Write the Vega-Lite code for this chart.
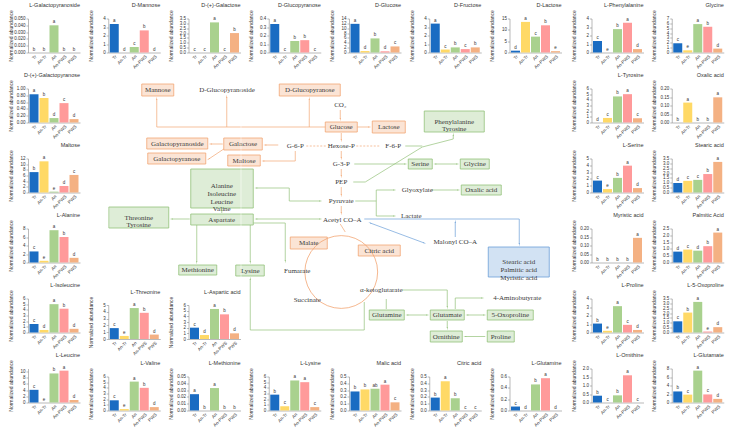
{
"$schema":"https://vega.github.io/schema/vega-lite/v6.json",
"padding":{"left":8,"top":2.5,"right":2,"bottom":1},
"background":"white",
"spacing":8.25,
"data":{"name":"b"},
"datasets":{
"b":[
{"c":"L-Galactopyranoside","t":"Tr","v":0,"s":"b"},{"c":"L-Galactopyranoside","t":"An-Tr","v":0,"s":"b"},{"c":"L-Galactopyranoside","t":"An","v":0.04,"s":"a"},{"c":"L-Galactopyranoside","t":"An-PWS","v":0,"s":"b"},{"c":"L-Galactopyranoside","t":"PWS","v":0,"s":"b"},
{"c":"D-Mannose","t":"Tr","v":3.35,"s":"a"},{"c":"D-Mannose","t":"An-Tr","v":0,"s":"d"},{"c":"D-Mannose","t":"An","v":0.65,"s":"c"},{"c":"D-Mannose","t":"An-PWS","v":2.6,"s":"b"},{"c":"D-Mannose","t":"PWS","v":0,"s":"d"},
{"c":"D-(+)-Galactose","t":"Tr","v":0,"s":"c"},{"c":"D-(+)-Galactose","t":"An-Tr","v":0,"s":"c"},{"c":"D-(+)-Galactose","t":"An","v":3.1,"s":"a"},{"c":"D-(+)-Galactose","t":"An-PWS","v":0,"s":"c"},{"c":"D-(+)-Galactose","t":"PWS","v":2.0,"s":"b"},
{"c":"D-Glucopyranose","t":"Tr","v":0.335,"s":"a"},{"c":"D-Glucopyranose","t":"An-Tr","v":0,"s":"c"},{"c":"D-Glucopyranose","t":"An","v":0.135,"s":"b"},{"c":"D-Glucopyranose","t":"An-PWS","v":0.145,"s":"b"},{"c":"D-Glucopyranose","t":"PWS","v":0,"s":"c"},
{"c":"D-Glucose","t":"Tr","v":11.8,"s":"a"},{"c":"D-Glucose","t":"An-Tr","v":0.6,"s":"d"},{"c":"D-Glucose","t":"An","v":5.8,"s":"b"},{"c":"D-Glucose","t":"An-PWS","v":0.5,"s":"d"},{"c":"D-Glucose","t":"PWS","v":2.5,"s":"c"},
{"c":"D-Fructose","t":"Tr","v":3.4,"s":"a"},{"c":"D-Fructose","t":"An-Tr","v":0.35,"s":"c"},{"c":"D-Fructose","t":"An","v":0.6,"s":"b"},{"c":"D-Fructose","t":"An-PWS","v":0.4,"s":"c"},{"c":"D-Fructose","t":"PWS","v":0.6,"s":"b"},
{"c":"D-Lactose","t":"Tr","v":0.8,"s":"d"},{"c":"D-Lactose","t":"An-Tr","v":13.5,"s":"a"},{"c":"D-Lactose","t":"An","v":7.0,"s":"c"},{"c":"D-Lactose","t":"An-PWS","v":12.0,"s":"b"},{"c":"D-Lactose","t":"PWS","v":0.6,"s":"e"},
{"c":"L-Phenylalanine","t":"Tr","v":1.35,"s":"c"},{"c":"L-Phenylalanine","t":"An-Tr","v":0,"s":"e"},{"c":"L-Phenylalanine","t":"An","v":2.75,"s":"b"},{"c":"L-Phenylalanine","t":"An-PWS","v":3.5,"s":"a"},{"c":"L-Phenylalanine","t":"PWS","v":0.4,"s":"d"},
{"c":"Glycine","t":"Tr","v":1.9,"s":"c"},{"c":"Glycine","t":"An-Tr","v":0.45,"s":"e"},{"c":"Glycine","t":"An","v":5.85,"s":"a"},{"c":"Glycine","t":"An-PWS","v":5.3,"s":"b"},{"c":"Glycine","t":"PWS","v":0.8,"s":"d"},
{"c":"D-(+)-Galactopyranose","t":"Tr","v":0.83,"s":"a"},{"c":"D-(+)-Galactopyranose","t":"An-Tr","v":0.72,"s":"b"},{"c":"D-(+)-Galactopyranose","t":"An","v":0.13,"s":"d"},{"c":"D-(+)-Galactopyranose","t":"An-PWS","v":0.57,"s":"c"},{"c":"D-(+)-Galactopyranose","t":"PWS","v":0.1,"s":"d"},
{"c":"Maltose","t":"Tr","v":7.2,"s":"b"},{"c":"Maltose","t":"An-Tr","v":11.0,"s":"a"},{"c":"Maltose","t":"An","v":0.3,"s":"e"},{"c":"Maltose","t":"An-PWS","v":2.3,"s":"d"},{"c":"Maltose","t":"PWS","v":6.2,"s":"c"},
{"c":"L-Alanine","t":"Tr","v":2.6,"s":"c"},{"c":"L-Alanine","t":"An-Tr","v":0.4,"s":"e"},{"c":"L-Alanine","t":"An","v":7.6,"s":"a"},{"c":"L-Alanine","t":"An-PWS","v":6.0,"s":"b"},{"c":"L-Alanine","t":"PWS","v":1.1,"s":"d"},
{"c":"L-Isoleucine","t":"Tr","v":1.5,"s":"c"},{"c":"L-Isoleucine","t":"An-Tr","v":0.45,"s":"d"},{"c":"L-Isoleucine","t":"An","v":5.0,"s":"a"},{"c":"L-Isoleucine","t":"An-PWS","v":4.2,"s":"b"},{"c":"L-Isoleucine","t":"PWS","v":0.65,"s":"d"},
{"c":"L-Threonine","t":"Tr","v":1.6,"s":"c"},{"c":"L-Threonine","t":"An-Tr","v":0.45,"s":"e"},{"c":"L-Threonine","t":"An","v":4.55,"s":"a"},{"c":"L-Threonine","t":"An-PWS","v":3.85,"s":"b"},{"c":"L-Threonine","t":"PWS","v":0.65,"s":"d"},
{"c":"L-Aspartic acid","t":"Tr","v":2.0,"s":"c"},{"c":"L-Aspartic acid","t":"An-Tr","v":0.7,"s":"d"},{"c":"L-Aspartic acid","t":"An","v":5.3,"s":"a"},{"c":"L-Aspartic acid","t":"An-PWS","v":4.35,"s":"b"},{"c":"L-Aspartic acid","t":"PWS","v":1.0,"s":"d"},
{"c":"L-Tyrosine","t":"Tr","v":0,"s":"d"},{"c":"L-Tyrosine","t":"An-Tr","v":0.8,"s":"c"},{"c":"L-Tyrosine","t":"An","v":4.6,"s":"b"},{"c":"L-Tyrosine","t":"An-PWS","v":5.0,"s":"a"},{"c":"L-Tyrosine","t":"PWS","v":0.75,"s":"c"},
{"c":"Oxalic acid","t":"Tr","v":0,"s":"b"},{"c":"Oxalic acid","t":"An-Tr","v":0.117,"s":"a"},{"c":"Oxalic acid","t":"An","v":0,"s":"b"},{"c":"Oxalic acid","t":"An-PWS","v":0,"s":"b"},{"c":"Oxalic acid","t":"PWS","v":0.148,"s":"a"},
{"c":"L-Serine","t":"Tr","v":1.75,"s":"c"},{"c":"L-Serine","t":"An-Tr","v":0.5,"s":"e"},{"c":"L-Serine","t":"An","v":2.15,"s":"b"},{"c":"L-Serine","t":"An-PWS","v":3.95,"s":"a"},{"c":"L-Serine","t":"PWS","v":0.65,"s":"d"},
{"c":"Stearic acid","t":"Tr","v":0.98,"s":"d"},{"c":"Stearic acid","t":"An-Tr","v":1.2,"s":"c"},{"c":"Stearic acid","t":"An","v":1.3,"s":"c"},{"c":"Stearic acid","t":"An-PWS","v":1.9,"s":"b"},{"c":"Stearic acid","t":"PWS","v":3.15,"s":"a"},
{"c":"Myristic acid","t":"Tr","v":0,"s":"b"},{"c":"Myristic acid","t":"An-Tr","v":0,"s":"b"},{"c":"Myristic acid","t":"An","v":0,"s":"b"},{"c":"Myristic acid","t":"An-PWS","v":0,"s":"b"},{"c":"Myristic acid","t":"PWS","v":0.145,"s":"a"},
{"c":"Palmitic Acid","t":"Tr","v":0.8,"s":"d"},{"c":"Palmitic Acid","t":"An-Tr","v":0.95,"s":"c"},{"c":"Palmitic Acid","t":"An","v":0.87,"s":"d"},{"c":"Palmitic Acid","t":"An-PWS","v":1.2,"s":"b"},{"c":"Palmitic Acid","t":"PWS","v":2.2,"s":"a"},
{"c":"L-Proline","t":"Tr","v":1.05,"s":"b"},{"c":"L-Proline","t":"An-Tr","v":0.2,"s":"e"},{"c":"L-Proline","t":"An","v":3.1,"s":"a"},{"c":"L-Proline","t":"An-PWS","v":0.9,"s":"c"},{"c":"L-Proline","t":"PWS","v":0.3,"s":"d"},
{"c":"L-5-Oxoproline","t":"Tr","v":1.15,"s":"c"},{"c":"L-5-Oxoproline","t":"An-Tr","v":2.05,"s":"b"},{"c":"L-5-Oxoproline","t":"An","v":3.15,"s":"a"},{"c":"L-5-Oxoproline","t":"An-PWS","v":0.1,"s":"e"},{"c":"L-5-Oxoproline","t":"PWS","v":0.55,"s":"d"},
{"c":"L-Leucine","t":"Tr","v":4.1,"s":"c"},{"c":"L-Leucine","t":"An-Tr","v":0,"s":"e"},{"c":"L-Leucine","t":"An","v":9.4,"s":"b"},{"c":"L-Leucine","t":"An-PWS","v":10.3,"s":"a"},{"c":"L-Leucine","t":"PWS","v":0.8,"s":"d"},
{"c":"L-Valine","t":"Tr","v":1.8,"s":"c"},{"c":"L-Valine","t":"An-Tr","v":0.25,"s":"e"},{"c":"L-Valine","t":"An","v":5.1,"s":"a"},{"c":"L-Valine","t":"An-PWS","v":4.0,"s":"b"},{"c":"L-Valine","t":"PWS","v":0.6,"s":"d"},
{"c":"L-Methionine","t":"Tr","v":0.024,"s":"a"},{"c":"L-Methionine","t":"An-Tr","v":0,"s":"b"},{"c":"L-Methionine","t":"An","v":0.033,"s":"a"},{"c":"L-Methionine","t":"An-PWS","v":0,"s":"b"},{"c":"L-Methionine","t":"PWS","v":0,"s":"b"},
{"c":"L-Lysine","t":"Tr","v":2.8,"s":"b"},{"c":"L-Lysine","t":"An-Tr","v":0.75,"s":"c"},{"c":"L-Lysine","t":"An","v":5.3,"s":"a"},{"c":"L-Lysine","t":"An-PWS","v":5.0,"s":"a"},{"c":"L-Lysine","t":"PWS","v":0.6,"s":"c"},
{"c":"Malic acid","t":"Tr","v":0.28,"s":"b"},{"c":"Malic acid","t":"An-Tr","v":0.31,"s":"b"},{"c":"Malic acid","t":"An","v":0.32,"s":"ab"},{"c":"Malic acid","t":"An-PWS","v":0.38,"s":"a"},{"c":"Malic acid","t":"PWS","v":0.12,"s":"c"},
{"c":"Citric acid","t":"Tr","v":0.19,"s":"b"},{"c":"Citric acid","t":"An-Tr","v":0.43,"s":"a"},{"c":"Citric acid","t":"An","v":0.18,"s":"b"},{"c":"Citric acid","t":"An-PWS","v":0,"s":"c"},{"c":"Citric acid","t":"PWS","v":0,"s":"c"},
{"c":"L-Glutamine","t":"Tr","v":0.07,"s":"c"},{"c":"L-Glutamine","t":"An-Tr","v":0,"s":"d"},{"c":"L-Glutamine","t":"An","v":0.46,"s":"b"},{"c":"L-Glutamine","t":"An-PWS","v":0.57,"s":"a"},{"c":"L-Glutamine","t":"PWS","v":0,"s":"d"},
{"c":"L-Ornithine","t":"Tr","v":0.4,"s":"b"},{"c":"L-Ornithine","t":"An-Tr","v":0,"s":"c"},{"c":"L-Ornithine","t":"An","v":0.42,"s":"b"},{"c":"L-Ornithine","t":"An-PWS","v":1.6,"s":"a"},{"c":"L-Ornithine","t":"PWS","v":0,"s":"c"},
{"c":"L-Glutamate","t":"Tr","v":2.6,"s":"b"},{"c":"L-Glutamate","t":"An-Tr","v":1.85,"s":"c"},{"c":"L-Glutamate","t":"An","v":7.5,"s":"a"},{"c":"L-Glutamate","t":"An-PWS","v":1.9,"s":"c"},{"c":"L-Glutamate","t":"PWS","v":0.85,"s":"d"}
],
"boxes":[
{"x":140,"x2":172,"y":86,"y2":98,"k":"o"},{"x":277,"x2":338,"y":86,"y2":98,"k":"o"},{"x":323,"x2":355,"y":124,"y2":134,"k":"o"},{"x":370,"x2":403,"y":123,"y2":135,"k":"o"},
{"x":222,"x2":260,"y":140,"y2":152,"k":"o"},{"x":145,"x2":206,"y":140,"y2":151,"k":"o"},{"x":146,"x2":204,"y":155,"y2":166,"k":"o"},{"x":226,"x2":258,"y":157,"y2":168,"k":"o"},
{"x":288,"x2":325,"y":239,"y2":251,"k":"o"},{"x":356,"x2":398,"y":247,"y2":258,"k":"o"},
{"x":422,"x2":482,"y":113,"y2":134,"k":"g"},{"x":406,"x2":430,"y":161,"y2":171,"k":"g"},{"x":458,"x2":487,"y":161,"y2":171,"k":"g"},{"x":459,"x2":499,"y":187,"y2":197,"k":"g"},
{"x":189,"x2":251,"y":171,"y2":210,"k":"g"},{"x":107,"x2":167,"y":209,"y2":230,"k":"g"},{"x":189,"x2":251,"y":216,"y2":227,"k":"g"},{"x":177,"x2":215,"y":267,"y2":277,"k":"g"},
{"x":234,"x2":262,"y":267,"y2":278,"k":"g"},{"x":367,"x2":402,"y":312,"y2":322,"k":"g"},{"x":428,"x2":462,"y":312,"y2":322,"k":"g"},{"x":485,"x2":531,"y":312,"y2":322,"k":"g"},
{"x":428,"x2":460,"y":333,"y2":344,"k":"g"},{"x":485,"x2":512,"y":333,"y2":344,"k":"g"},
{"x":486,"x2":547,"y":249,"y2":279,"k":"b"}
],
"labels":[
{"x":156,"y":92,"t":"Mannose"},{"x":307.5,"y":92,"t":"D-Glucopyranose"},{"x":339,"y":129,"t":"Glucose"},{"x":386.5,"y":129,"t":"Lactose"},
{"x":241,"y":146,"t":"Galactose"},{"x":175.5,"y":145.5,"t":"Galactopyranoside"},{"x":175,"y":160.5,"t":"Galactopyranose"},{"x":242,"y":162.5,"t":"Maltose"},
{"x":306.5,"y":245,"t":"Malate"},{"x":377,"y":252.5,"t":"Citric acid"},
{"x":452,"y":123.5,"t":"Phenylalanine\nTyrosine"},{"x":418,"y":166,"t":"Serine"},{"x":472.5,"y":166,"t":"Glycine"},{"x":479,"y":192,"t":"Oxalic acid"},
{"x":220,"y":188,"t":"Alanine\nIsoleucine\nLeucine\nValine"},{"x":137,"y":219.5,"t":"Threonine\nTyrosine"},{"x":220,"y":221.5,"t":"Aspartate"},{"x":196,"y":272,"t":"Methionine"},
{"x":248,"y":272.5,"t":"Lysine"},{"x":384.5,"y":317,"t":"Glutamine"},{"x":445,"y":317,"t":"Glutamate"},{"x":508,"y":317,"t":"5-Oxoproline"},
{"x":444,"y":338.5,"t":"Ornithine"},{"x":498.5,"y":338.5,"t":"Proline"},{"x":516.5,"y":264,"t":"Stearic acid\nPalmitic acid\nMyristic acid"},
{"x":225,"y":92,"t":"D-Glucopyranoside"},{"x":338,"y":107,"t":"CO₂"},{"x":339,"y":148,"t":"Hexose-P"},{"x":391,"y":148,"t":"F-6-P"},{"x":293,"y":148,"t":"G-6-P"},
{"x":339,"y":166,"t":"G-3-P"},{"x":339,"y":184,"t":"PEP"},{"x":339,"y":203,"t":"Pyruvate"},{"x":340,"y":221.5,"t":"Acetyl CO–A"},
{"x":415,"y":192,"t":"Glyoxylate"},{"x":409,"y":218,"t":"Lactate"},{"x":453,"y":244,"t":"Malonyl CO–A"},{"x":295,"y":273,"t":"Fumarate"},
{"x":305,"y":302,"t":"Succinate"},{"x":379,"y":292,"t":"α-ketoglutarate"},{"x":515,"y":300,"t":"4-Aminobutyrate"}
],
"circ":[{"x":339,"y":274}],
"dash":[
{"e":1,"x":354,"y":148},{"e":1,"x":378,"y":148},{"e":2,"x":304,"y":148},{"e":2,"x":324,"y":148}
],
"edges":[
{"e":1,"i":0,"x":323,"y":129,"c":"o"},{"e":1,"i":1,"x":155,"y":129,"c":"o"},
{"e":2,"i":0,"x":155,"y":129,"c":"o"},{"e":2,"i":1,"x":155,"y":101,"c":"o"},
{"e":3,"i":0,"x":225,"y":129,"c":"o"},{"e":3,"i":1,"x":225,"y":99,"c":"o"},
{"e":4,"i":0,"x":307,"y":129,"c":"o"},{"e":4,"i":1,"x":307,"y":101,"c":"o"},
{"e":5,"i":0,"x":338,"y":112,"c":"o"},{"e":5,"i":1,"x":338,"y":121,"c":"o"},
{"e":6,"i":0,"x":355,"y":129,"c":"o"},{"e":6,"i":1,"x":367,"y":129,"c":"o"},
{"e":7,"i":0,"x":339,"y":135,"c":"o"},{"e":7,"i":1,"x":339,"y":142,"c":"o"},
{"e":10,"i":0,"x":339,"y":153,"c":"o"},{"e":10,"i":1,"x":339,"y":160,"c":"o"},
{"e":11,"i":0,"x":339,"y":171,"c":"o"},{"e":11,"i":1,"x":339,"y":178,"c":"o"},
{"e":12,"i":0,"x":339,"y":189,"c":"o"},{"e":12,"i":1,"x":339,"y":197,"c":"o"},
{"e":13,"i":0,"x":339,"y":208,"c":"o"},{"e":13,"i":1,"x":339,"y":215,"c":"o"},
{"e":14,"i":0,"x":276,"y":147,"c":"o"},{"e":14,"i":1,"x":263,"y":147,"c":"o"},
{"e":15,"i":0,"x":293,"y":153,"c":"o"},{"e":15,"i":1,"x":293,"y":163,"c":"o"},{"e":15,"i":2,"x":261,"y":163,"c":"o"},
{"e":16,"i":0,"x":221,"y":146,"c":"o"},{"e":16,"i":1,"x":209,"y":146,"c":"o"},
{"e":17,"i":0,"x":222,"y":151,"c":"o"},{"e":17,"i":1,"x":207,"y":161,"c":"o"},
{"e":18,"i":0,"x":338,"y":226,"c":"o"},{"e":18,"i":1,"x":343,"y":234,"c":"o"},
{"e":20,"i":0,"x":403,"y":148,"c":"g"},{"e":20,"i":1,"x":420,"y":148,"c":"g"},
{"e":21,"i":0,"x":351,"y":184,"c":"g"},{"e":21,"i":1,"x":363,"y":184,"c":"g"},{"e":21,"i":2,"x":420,"y":149,"c":"g"},{"e":21,"i":3,"x":451,"y":141,"c":"g"},{"e":21,"i":4,"x":451,"y":137,"c":"g"},
{"e":22,"i":0,"x":352,"y":166,"c":"g"},{"e":22,"i":1,"x":403,"y":166,"c":"g"},
{"e":23,"i":0,"x":433,"y":166,"c":"g"},{"e":23,"i":1,"x":455,"y":166,"c":"g"},
{"e":24,"i":0,"x":353,"y":203,"c":"g"},{"e":24,"i":1,"x":374,"y":203,"c":"g"},
{"e":25,"i":0,"x":374,"y":192,"c":"g"},{"e":25,"i":1,"x":374,"y":218,"c":"g"},
{"e":26,"i":0,"x":374,"y":192,"c":"g"},{"e":26,"i":1,"x":392,"y":192,"c":"g"},
{"e":27,"i":0,"x":374,"y":218,"c":"g"},{"e":27,"i":1,"x":392,"y":218,"c":"g"},
{"e":28,"i":0,"x":429,"y":192,"c":"g"},{"e":28,"i":1,"x":456,"y":192,"c":"g"},
{"e":29,"i":0,"x":318,"y":203,"c":"g"},{"e":29,"i":1,"x":287,"y":203,"c":"g"},{"e":29,"i":2,"x":287,"y":190,"c":"g"},{"e":29,"i":3,"x":254,"y":190,"c":"g"},
{"e":30,"i":0,"x":254,"y":221,"c":"g"},{"e":30,"i":1,"x":318,"y":221,"c":"g"},
{"e":31,"i":0,"x":220,"y":215,"c":"g"},{"e":31,"i":1,"x":220,"y":212,"c":"g"},
{"e":32,"i":0,"x":188,"y":221,"c":"g"},{"e":32,"i":1,"x":170,"y":221,"c":"g"},
{"e":33,"i":0,"x":195,"y":227,"c":"g"},{"e":33,"i":1,"x":195,"y":264,"c":"g"},
{"e":34,"i":0,"x":248,"y":227,"c":"g"},{"e":34,"i":1,"x":248,"y":264,"c":"g"},
{"e":35,"i":0,"x":251,"y":225,"c":"g"},{"e":35,"i":1,"x":283,"y":225,"c":"g"},{"e":35,"i":2,"x":283,"y":263,"c":"g"},
{"e":36,"i":0,"x":362,"y":304,"c":"g"},{"e":36,"i":1,"x":362,"y":332,"c":"g"},{"e":36,"i":2,"x":248,"y":332,"c":"g"},{"e":36,"i":3,"x":248,"y":281,"c":"g"},
{"e":37,"i":0,"x":400,"y":292,"c":"g"},{"e":37,"i":1,"x":445,"y":292,"c":"g"},{"e":37,"i":2,"x":445,"y":309,"c":"g"},
{"e":38,"i":0,"x":384,"y":311,"c":"g"},{"e":38,"i":1,"x":384,"y":301,"c":"g"},
{"e":39,"i":0,"x":405,"y":317,"c":"g"},{"e":39,"i":1,"x":425,"y":317,"c":"g"},
{"e":40,"i":0,"x":453,"y":311,"c":"g"},{"e":40,"i":1,"x":453,"y":300,"c":"g"},{"e":40,"i":2,"x":480,"y":300,"c":"g"},
{"e":41,"i":0,"x":465,"y":317,"c":"g"},{"e":41,"i":1,"x":482,"y":317,"c":"g"},
{"e":42,"i":0,"x":445,"y":323,"c":"g"},{"e":42,"i":1,"x":445,"y":330,"c":"g"},
{"e":43,"i":0,"x":483,"y":338.5,"c":"g"},{"e":43,"i":1,"x":463,"y":338.5,"c":"g"},
{"e":50,"i":0,"x":368,"y":225,"c":"b"},{"e":50,"i":1,"x":422,"y":245,"c":"b"},
{"e":51,"i":0,"x":362,"y":221,"c":"b"},{"e":51,"i":1,"x":517,"y":221,"c":"b"},{"e":51,"i":2,"x":517,"y":246,"c":"b"},
{"e":52,"i":0,"x":453,"y":239,"c":"b"},{"e":52,"i":1,"x":453,"y":224,"c":"b"}
],
"arrows":[
{"x":155,"y":101,"a":0,"c":"o"},{"x":225,"y":99,"a":0,"c":"o"},{"x":307,"y":101,"a":0,"c":"o"},{"x":338,"y":121,"a":180,"c":"o"},
{"x":367,"y":129,"a":90,"c":"o"},{"x":339,"y":142,"a":180,"c":"o"},{"x":339,"y":160,"a":180,"c":"o"},{"x":339,"y":178,"a":180,"c":"o"},
{"x":339,"y":197,"a":180,"c":"o"},{"x":339,"y":215,"a":180,"c":"o"},{"x":263,"y":147,"a":270,"c":"o"},{"x":261,"y":163,"a":270,"c":"o"},
{"x":209,"y":146,"a":270,"c":"o"},{"x":207,"y":161,"a":236,"c":"o"},
{"x":451,"y":137,"a":0,"c":"g"},{"x":403,"y":166,"a":90,"c":"g"},{"x":433,"y":166,"a":270,"c":"g"},{"x":455,"y":166,"a":90,"c":"g"},
{"x":392,"y":192,"a":90,"c":"g"},{"x":392,"y":218,"a":90,"c":"g"},{"x":456,"y":192,"a":90,"c":"g"},
{"x":318,"y":203,"a":90,"c":"g"},{"x":254,"y":190,"a":270,"c":"g"},{"x":254,"y":221,"a":270,"c":"g"},{"x":318,"y":221,"a":90,"c":"g"},
{"x":220,"y":212,"a":0,"c":"g"},{"x":170,"y":221,"a":270,"c":"g"},{"x":195,"y":264,"a":180,"c":"g"},{"x":248,"y":264,"a":180,"c":"g"},
{"x":283,"y":263,"a":180,"c":"g"},{"x":248,"y":281,"a":0,"c":"g"},{"x":445,"y":309,"a":180,"c":"g"},{"x":405,"y":317,"a":270,"c":"g"},
{"x":425,"y":317,"a":90,"c":"g"},{"x":480,"y":300,"a":90,"c":"g"},{"x":465,"y":317,"a":270,"c":"g"},{"x":482,"y":317,"a":90,"c":"g"},
{"x":445,"y":330,"a":180,"c":"g"},{"x":463,"y":338.5,"a":270,"c":"g"},
{"x":368,"y":225,"a":290,"c":"b"},{"x":422,"y":245,"a":110,"c":"b"},{"x":517,"y":246,"a":180,"c":"b"},{"x":453,"y":224,"a":0,"c":"b"}
]
},
"hconcat":[
{"spacing":3,"vconcat":[
{"width":52,"height":34,"title":"L-Galactopyranoside","transform":[{"filter":{"field":"c","equal":"L-Galactopyranoside"}}],"encoding":{"x":{"field":"t","type":"nominal","sort":null,"title":null},"y":{"field":"v","type":"quantitative","title":"Normalized abundance","scale":{"domain":[0,0.05]},"axis":{"format":".3f"}}},"layer":[{"mark":"bar","encoding":{"color":{"field":"t","type":"nominal"}}},{"mark":"text","encoding":{"text":{"field":"s"}}}]},
{"width":52,"height":34,"title":"D-(+)-Galactopyranose","transform":[{"filter":{"field":"c","equal":"D-(+)-Galactopyranose"}}],"encoding":{"x":{"field":"t","type":"nominal","sort":null,"title":null},"y":{"field":"v","type":"quantitative","title":"Normalized abundance","scale":{"domain":[0,1]},"axis":{"format":".2f"}}},"layer":[{"mark":"bar","encoding":{"color":{"field":"t","type":"nominal"}}},{"mark":"text","encoding":{"text":{"field":"s"}}}]},
{"width":52,"height":34,"title":"Maltose","transform":[{"filter":{"field":"c","equal":"Maltose"}}],"encoding":{"x":{"field":"t","type":"nominal","sort":null,"title":null},"y":{"field":"v","type":"quantitative","title":"Normalized abundance","scale":{"domain":[0,12]}}},"layer":[{"mark":"bar","encoding":{"color":{"field":"t","type":"nominal"}}},{"mark":"text","encoding":{"text":{"field":"s"}}}]},
{"width":52,"height":34,"title":"L-Alanine","transform":[{"filter":{"field":"c","equal":"L-Alanine"}}],"encoding":{"x":{"field":"t","type":"nominal","sort":null,"title":null},"y":{"field":"v","type":"quantitative","title":"Normalized abundance","scale":{"domain":[0,8]}}},"layer":[{"mark":"bar","encoding":{"color":{"field":"t","type":"nominal"}}},{"mark":"text","encoding":{"text":{"field":"s"}}}]},
{"width":52,"height":34,"title":"L-Isoleucine","transform":[{"filter":{"field":"c","equal":"L-Isoleucine"}}],"encoding":{"x":{"field":"t","type":"nominal","sort":null,"title":null},"y":{"field":"v","type":"quantitative","title":"Normalized abundance","scale":{"domain":[0,6]}}},"layer":[{"mark":"bar","encoding":{"color":{"field":"t","type":"nominal"}}},{"mark":"text","encoding":{"text":{"field":"s"}}}]},
{"width":52,"height":34,"title":"L-Leucine","transform":[{"filter":{"field":"c","equal":"L-Leucine"}}],"encoding":{"x":{"field":"t","type":"nominal","sort":null,"title":null},"y":{"field":"v","type":"quantitative","title":"Normalized abundance","scale":{"domain":[0,11]}}},"layer":[{"mark":"bar","encoding":{"color":{"field":"t","type":"nominal"}}},{"mark":"text","encoding":{"text":{"field":"s"}}}]}
]},
{"spacing":3.5,"vconcat":[
{"spacing":8.25,"hconcat":[
{"width":52,"height":34,"title":"D-Mannose","transform":[{"filter":{"field":"c","equal":"D-Mannose"}}],"encoding":{"x":{"field":"t","type":"nominal","sort":null,"title":null},"y":{"field":"v","type":"quantitative","title":"Normalized abundance","scale":{"domain":[0,4]}}},"layer":[{"mark":"bar","encoding":{"color":{"field":"t","type":"nominal"}}},{"mark":"text","encoding":{"text":{"field":"s"}}}]},
{"width":52,"height":34,"title":"D-(+)-Galactose","transform":[{"filter":{"field":"c","equal":"D-(+)-Galactose"}}],"encoding":{"x":{"field":"t","type":"nominal","sort":null,"title":null},"y":{"field":"v","type":"quantitative","title":"Normalized abundance","scale":{"domain":[0,3.5]}}},"layer":[{"mark":"bar","encoding":{"color":{"field":"t","type":"nominal"}}},{"mark":"text","encoding":{"text":{"field":"s"}}}]},
{"width":52,"height":34,"title":"D-Glucopyranose","transform":[{"filter":{"field":"c","equal":"D-Glucopyranose"}}],"encoding":{"x":{"field":"t","type":"nominal","sort":null,"title":null},"y":{"field":"v","type":"quantitative","title":"Normalized abundance","scale":{"domain":[0,0.4]}}},"layer":[{"mark":"bar","encoding":{"color":{"field":"t","type":"nominal"}}},{"mark":"text","encoding":{"text":{"field":"s"}}}]},
{"width":52,"height":34,"title":"D-Glucose","transform":[{"filter":{"field":"c","equal":"D-Glucose"}}],"encoding":{"x":{"field":"t","type":"nominal","sort":null,"title":null},"y":{"field":"v","type":"quantitative","title":"Normalized abundance","scale":{"domain":[0,14]}}},"layer":[{"mark":"bar","encoding":{"color":{"field":"t","type":"nominal"}}},{"mark":"text","encoding":{"text":{"field":"s"}}}]},
{"width":52,"height":34,"title":"D-Fructose","transform":[{"filter":{"field":"c","equal":"D-Fructose"}}],"encoding":{"x":{"field":"t","type":"nominal","sort":null,"title":null},"y":{"field":"v","type":"quantitative","title":"Normalized abundance","scale":{"domain":[0,4]}}},"layer":[{"mark":"bar","encoding":{"color":{"field":"t","type":"nominal"}}},{"mark":"text","encoding":{"text":{"field":"s"}}}]},
{"width":52,"height":34,"title":"D-Lactose","transform":[{"filter":{"field":"c","equal":"D-Lactose"}}],"encoding":{"x":{"field":"t","type":"nominal","sort":null,"title":null},"y":{"field":"v","type":"quantitative","title":"Normalized abundance","scale":{"domain":[0,15]},"axis":{"values":[0,5,10,15]}}},"layer":[{"mark":"bar","encoding":{"color":{"field":"t","type":"nominal"}}},{"mark":"text","encoding":{"text":{"field":"s"}}}]}
]},
{"spacing":0,"hconcat":[
{"spacing":3,"vconcat":[
{"width":132.5,"height":212.5,
"encoding":{"x":{"field":"x","type":"quantitative","scale":{"domain":[106.5,239],"nice":false,"zero":false},"axis":null},"y":{"field":"y","type":"quantitative","scale":{"domain":[75,287.5],"nice":false,"zero":false,"reverse":true},"axis":null}},
"layer":[
{"data":{"name":"circ"},"mark":{"type":"point","shape":"circle","filled":false,"size":5300,"stroke":"#f2a673","strokeWidth":0.8,"opacity":1,"clip":true}},
{"data":{"name":"edges"},"mark":{"type":"line","strokeWidth":0.7,"clip":true},"encoding":{"detail":{"field":"e","type":"nominal"},"order":{"field":"i","type":"quantitative"},"stroke":{"field":"c","type":"nominal","scale":{"domain":["o","g","b"],"range":["#f2a673","#93c27a","#6b9fd8"]}}}},
{"data":{"name":"dash"},"mark":{"type":"line","strokeWidth":0.7,"strokeDash":[2,1.5],"color":"#f2a673","clip":true},"encoding":{"detail":{"field":"e","type":"nominal"}}},
{"data":{"name":"boxes"},"mark":{"type":"rect","fillOpacity":0.3,"strokeWidth":0.8,"clip":true},"encoding":{"x2":{"field":"x2"},"y2":{"field":"y2"},"fill":{"field":"k","type":"nominal","scale":{"domain":["o","g","b"],"range":["#f2a673","#93c27a","#6b9fd8"]}},"stroke":{"field":"k","type":"nominal","scale":{"domain":["o","g","b"],"range":["#f2a673","#93c27a","#6b9fd8"]}}}},
{"data":{"name":"labels"},"mark":{"type":"text","font":"Liberation Serif","fontSize":7,"dy":0,"lineBreak":"\n","lineHeight":7.8,"color":"#3a3a3a","clip":true},"encoding":{"text":{"field":"t"}}},
{"data":{"name":"arrows"},"mark":{"type":"point","shape":"wedge","filled":true,"size":14,"opacity":1,"clip":true},"encoding":{"angle":{"field":"a","type":"quantitative","scale":null},"fill":{"field":"c","type":"nominal","scale":{"domain":["o","g","b"],"range":["#f2a673","#93c27a","#6b9fd8"]}}}}
]},
{"spacing":8.25,"hconcat":[
{"width":52,"height":34,"title":"L-Threonine","transform":[{"filter":{"field":"c","equal":"L-Threonine"}}],"encoding":{"x":{"field":"t","type":"nominal","sort":null,"title":null},"y":{"field":"v","type":"quantitative","title":"Normalized abundance","scale":{"domain":[0,5]}}},"layer":[{"mark":"bar","encoding":{"color":{"field":"t","type":"nominal"}}},{"mark":"text","encoding":{"text":{"field":"s"}}}]},
{"width":52,"height":34,"title":"L-Aspartic acid","transform":[{"filter":{"field":"c","equal":"L-Aspartic acid"}}],"encoding":{"x":{"field":"t","type":"nominal","sort":null,"title":null},"y":{"field":"v","type":"quantitative","title":"Normalized abundance","scale":{"domain":[0,6]}}},"layer":[{"mark":"bar","encoding":{"color":{"field":"t","type":"nominal"}}},{"mark":"text","encoding":{"text":{"field":"s"}}}]}
]}
]},
{"width":322,"height":284,
"encoding":{"x":{"field":"x","type":"quantitative","scale":{"domain":[239,561],"nice":false,"zero":false},"axis":null},"y":{"field":"y","type":"quantitative","scale":{"domain":[75,359],"nice":false,"zero":false,"reverse":true},"axis":null}},
"layer":[
{"data":{"name":"circ"},"mark":{"type":"point","shape":"circle","filled":false,"size":5300,"stroke":"#f2a673","strokeWidth":0.8,"opacity":1,"clip":true}},
{"data":{"name":"edges"},"mark":{"type":"line","strokeWidth":0.7,"clip":true},"encoding":{"detail":{"field":"e","type":"nominal"},"order":{"field":"i","type":"quantitative"},"stroke":{"field":"c","type":"nominal","scale":{"domain":["o","g","b"],"range":["#f2a673","#93c27a","#6b9fd8"]}}}},
{"data":{"name":"dash"},"mark":{"type":"line","strokeWidth":0.7,"strokeDash":[2,1.5],"color":"#f2a673","clip":true},"encoding":{"detail":{"field":"e","type":"nominal"}}},
{"data":{"name":"boxes"},"mark":{"type":"rect","fillOpacity":0.3,"strokeWidth":0.8,"clip":true},"encoding":{"x2":{"field":"x2"},"y2":{"field":"y2"},"fill":{"field":"k","type":"nominal","scale":{"domain":["o","g","b"],"range":["#f2a673","#93c27a","#6b9fd8"]}},"stroke":{"field":"k","type":"nominal","scale":{"domain":["o","g","b"],"range":["#f2a673","#93c27a","#6b9fd8"]}}}},
{"data":{"name":"labels"},"mark":{"type":"text","font":"Liberation Serif","fontSize":7,"dy":0,"lineBreak":"\n","lineHeight":7.8,"color":"#3a3a3a","clip":true},"encoding":{"text":{"field":"t"}}},
{"data":{"name":"arrows"},"mark":{"type":"point","shape":"wedge","filled":true,"size":14,"opacity":1,"clip":true},"encoding":{"angle":{"field":"a","type":"quantitative","scale":null},"fill":{"field":"c","type":"nominal","scale":{"domain":["o","g","b"],"range":["#f2a673","#93c27a","#6b9fd8"]}}}}
]}
]},
{"spacing":8.25,"hconcat":[
{"width":52,"height":34,"title":"L-Valine","transform":[{"filter":{"field":"c","equal":"L-Valine"}}],"encoding":{"x":{"field":"t","type":"nominal","sort":null,"title":null},"y":{"field":"v","type":"quantitative","title":"Normalized abundance","scale":{"domain":[0,6]}}},"layer":[{"mark":"bar","encoding":{"color":{"field":"t","type":"nominal"}}},{"mark":"text","encoding":{"text":{"field":"s"}}}]},
{"width":52,"height":34,"title":"L-Methionine","transform":[{"filter":{"field":"c","equal":"L-Methionine"}}],"encoding":{"x":{"field":"t","type":"nominal","sort":null,"title":null},"y":{"field":"v","type":"quantitative","title":"Normalized abundance","scale":{"domain":[0,0.05]}}},"layer":[{"mark":"bar","encoding":{"color":{"field":"t","type":"nominal"}}},{"mark":"text","encoding":{"text":{"field":"s"}}}]},
{"width":52,"height":34,"title":"L-Lysine","transform":[{"filter":{"field":"c","equal":"L-Lysine"}}],"encoding":{"x":{"field":"t","type":"nominal","sort":null,"title":null},"y":{"field":"v","type":"quantitative","title":"Normalized abundance","scale":{"domain":[0,6]}}},"layer":[{"mark":"bar","encoding":{"color":{"field":"t","type":"nominal"}}},{"mark":"text","encoding":{"text":{"field":"s"}}}]},
{"width":52,"height":34,"title":"Malic acid","transform":[{"filter":{"field":"c","equal":"Malic acid"}}],"encoding":{"x":{"field":"t","type":"nominal","sort":null,"title":null},"y":{"field":"v","type":"quantitative","title":"Normalized abundance","scale":{"domain":[0,0.5]}}},"layer":[{"mark":"bar","encoding":{"color":{"field":"t","type":"nominal"}}},{"mark":"text","encoding":{"text":{"field":"s"}}}]},
{"width":52,"height":34,"title":"Citric acid","transform":[{"filter":{"field":"c","equal":"Citric acid"}}],"encoding":{"x":{"field":"t","type":"nominal","sort":null,"title":null},"y":{"field":"v","type":"quantitative","title":"Normalized abundance","scale":{"domain":[0,0.5]}}},"layer":[{"mark":"bar","encoding":{"color":{"field":"t","type":"nominal"}}},{"mark":"text","encoding":{"text":{"field":"s"}}}]},
{"width":52,"height":34,"title":"L-Glutamine","transform":[{"filter":{"field":"c","equal":"L-Glutamine"}}],"encoding":{"x":{"field":"t","type":"nominal","sort":null,"title":null},"y":{"field":"v","type":"quantitative","title":"Normalized abundance","scale":{"domain":[0,0.6]},"axis":{"values":[0,0.2,0.4,0.6],"format":".1f"}}},"layer":[{"mark":"bar","encoding":{"color":{"field":"t","type":"nominal"}}},{"mark":"text","encoding":{"text":{"field":"s"}}}]}
]}
]},
{"spacing":3,"vconcat":[
{"width":52,"height":34,"title":"L-Phenylalanine","transform":[{"filter":{"field":"c","equal":"L-Phenylalanine"}}],"encoding":{"x":{"field":"t","type":"nominal","sort":null,"title":null},"y":{"field":"v","type":"quantitative","title":"Normalized abundance","scale":{"domain":[0,4]}}},"layer":[{"mark":"bar","encoding":{"color":{"field":"t","type":"nominal"}}},{"mark":"text","encoding":{"text":{"field":"s"}}}]},
{"width":52,"height":34,"title":"L-Tyrosine","transform":[{"filter":{"field":"c","equal":"L-Tyrosine"}}],"encoding":{"x":{"field":"t","type":"nominal","sort":null,"title":null},"y":{"field":"v","type":"quantitative","title":"Normalized abundance","scale":{"domain":[0,6]}}},"layer":[{"mark":"bar","encoding":{"color":{"field":"t","type":"nominal"}}},{"mark":"text","encoding":{"text":{"field":"s"}}}]},
{"width":52,"height":34,"title":"L-Serine","transform":[{"filter":{"field":"c","equal":"L-Serine"}}],"encoding":{"x":{"field":"t","type":"nominal","sort":null,"title":null},"y":{"field":"v","type":"quantitative","title":"Normalized abundance","scale":{"domain":[0,5]}}},"layer":[{"mark":"bar","encoding":{"color":{"field":"t","type":"nominal"}}},{"mark":"text","encoding":{"text":{"field":"s"}}}]},
{"width":52,"height":34,"title":"Myristic acid","transform":[{"filter":{"field":"c","equal":"Myristic acid"}}],"encoding":{"x":{"field":"t","type":"nominal","sort":null,"title":null},"y":{"field":"v","type":"quantitative","title":"Normalized abundance","scale":{"domain":[0,0.2]}}},"layer":[{"mark":"bar","encoding":{"color":{"field":"t","type":"nominal"}}},{"mark":"text","encoding":{"text":{"field":"s"}}}]},
{"width":52,"height":34,"title":"L-Proline","transform":[{"filter":{"field":"c","equal":"L-Proline"}}],"encoding":{"x":{"field":"t","type":"nominal","sort":null,"title":null},"y":{"field":"v","type":"quantitative","title":"Normalized abundance","scale":{"domain":[0,4]}}},"layer":[{"mark":"bar","encoding":{"color":{"field":"t","type":"nominal"}}},{"mark":"text","encoding":{"text":{"field":"s"}}}]},
{"width":52,"height":34,"title":"L-Ornithine","transform":[{"filter":{"field":"c","equal":"L-Ornithine"}}],"encoding":{"x":{"field":"t","type":"nominal","sort":null,"title":null},"y":{"field":"v","type":"quantitative","title":"Normalized abundance","scale":{"domain":[0,2]}}},"layer":[{"mark":"bar","encoding":{"color":{"field":"t","type":"nominal"}}},{"mark":"text","encoding":{"text":{"field":"s"}}}]}
]},
{"spacing":3,"vconcat":[
{"width":52,"height":34,"title":"Glycine","transform":[{"filter":{"field":"c","equal":"Glycine"}}],"encoding":{"x":{"field":"t","type":"nominal","sort":null,"title":null},"y":{"field":"v","type":"quantitative","title":"Normalized abundance","scale":{"domain":[0,7]}}},"layer":[{"mark":"bar","encoding":{"color":{"field":"t","type":"nominal"}}},{"mark":"text","encoding":{"text":{"field":"s"}}}]},
{"width":52,"height":34,"title":"Oxalic acid","transform":[{"filter":{"field":"c","equal":"Oxalic acid"}}],"encoding":{"x":{"field":"t","type":"nominal","sort":null,"title":null},"y":{"field":"v","type":"quantitative","title":"Normalized abundance","scale":{"domain":[0,0.2]}}},"layer":[{"mark":"bar","encoding":{"color":{"field":"t","type":"nominal"}}},{"mark":"text","encoding":{"text":{"field":"s"}}}]},
{"width":52,"height":34,"title":"Stearic acid","transform":[{"filter":{"field":"c","equal":"Stearic acid"}}],"encoding":{"x":{"field":"t","type":"nominal","sort":null,"title":null},"y":{"field":"v","type":"quantitative","title":"Normalized abundance","scale":{"domain":[0,3.5]}}},"layer":[{"mark":"bar","encoding":{"color":{"field":"t","type":"nominal"}}},{"mark":"text","encoding":{"text":{"field":"s"}}}]},
{"width":52,"height":34,"title":"Palmitic Acid","transform":[{"filter":{"field":"c","equal":"Palmitic Acid"}}],"encoding":{"x":{"field":"t","type":"nominal","sort":null,"title":null},"y":{"field":"v","type":"quantitative","title":"Normalized abundance","scale":{"domain":[0,2.5]}}},"layer":[{"mark":"bar","encoding":{"color":{"field":"t","type":"nominal"}}},{"mark":"text","encoding":{"text":{"field":"s"}}}]},
{"width":52,"height":34,"title":"L-5-Oxoproline","transform":[{"filter":{"field":"c","equal":"L-5-Oxoproline"}}],"encoding":{"x":{"field":"t","type":"nominal","sort":null,"title":null},"y":{"field":"v","type":"quantitative","title":"Normalized abundance","scale":{"domain":[0,3.5]}}},"layer":[{"mark":"bar","encoding":{"color":{"field":"t","type":"nominal"}}},{"mark":"text","encoding":{"text":{"field":"s"}}}]},
{"width":52,"height":34,"title":"L-Glutamate","transform":[{"filter":{"field":"c","equal":"L-Glutamate"}}],"encoding":{"x":{"field":"t","type":"nominal","sort":null,"title":null},"y":{"field":"v","type":"quantitative","title":"Normalized abundance","scale":{"domain":[0,8]}}},"layer":[{"mark":"bar","encoding":{"color":{"field":"t","type":"nominal"}}},{"mark":"text","encoding":{"text":{"field":"s"}}}]}
]}
],
"config":{
"font":"Liberation Sans",
"view":{"stroke":null},
"legend":{"disable":true},
"range":{"category":["#a9d18e","#ff9a9a","#ffd966","#f4b183","#1a6cc2"]},
"scale":{"bandPaddingInner":0.1,"bandPaddingOuter":0.15},
"axis":{"grid":false,"labelFontSize":4.5,"titleFontSize":5,"titleFontWeight":"normal","domainColor":"#8c8c8c","tickColor":"#8c8c8c","labelColor":"#333333","titleColor":"#333333","domainWidth":0.6,"tickWidth":0.6},
"axisY":{"tickCount":5,"tickSize":2,"labelPadding":1,"titlePadding":2,"minExtent":13,"maxExtent":13},
"axisX":{"labelAngle":-45,"ticks":false,"labelPadding":1,"labelOverlap":false,"minExtent":14,"maxExtent":14},
"title":{"fontSize":5.5,"fontWeight":"normal","anchor":"end","offset":1,"color":"#333333"},
"text":{"fontSize":4.5,"dy":-3,"color":"#333333"}
}
}
